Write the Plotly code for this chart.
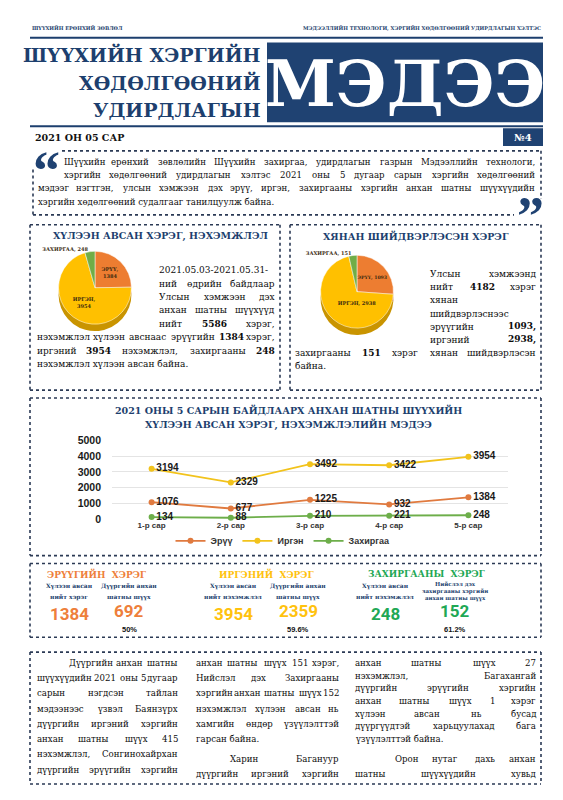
import plotly.graph_objects as go

# page pixels -> figure; the page body has an 8px margin
OFF = 8
W, H = 547, 784
def X(p): return (p - OFF) / W
def Y(p): return 1 - (p - OFF) / H

NAVY = "#1D3F6E"
ORANGE = "#ED7D31"
GOLD = "#FFC000"
GREEN = "#70AD47"
DOT = "#2B3A55"
SERIF = "DejaVu Serif, serif"
BODY = "DejaVu Serif, serif"
SANS = "Liberation Sans, Arial, sans-serif"

# ---------------- data ----------------
months = ["1-р сар", "2-р сар", "3-р сар", "4-р сар", "5-р сар"]
eruu = [1076, 677, 1225, 932, 1384]
irgen = [3194, 2329, 3492, 3422, 3954]
zahirgaa = [134, 88, 210, 221, 248]
series_names = ["Эрүү", "Иргэн", "Захиргаа"]
y_ticks = [0, 1000, 2000, 3000, 4000, 5000]

pie_labels = ["ЭРҮҮ", "ИРГЭН", "ЗАХИРГАА"]
received = [1384, 3954, 248]
resolved = [1093, 2938, 151]

group_titles = ["ЭРҮҮГИЙН  ХЭРЭГ", "ИРГЭНИЙ  ХЭРЭГ", "ЗАХИРГААНЫ  ХЭРЭГ"]
total_labels = [["Хүлээн авсан", "нийт хэрэг"], ["Хүлээн авсан", "нийт нэхэмжлэл"],
                ["Хүлээн авсан", "нийт нэхэмжлэл"]]
district_labels = [["Дүүргийн анхан", "шатны шүүх"], ["Дүүргийн анхан", "шатны шүүх"],
                   ["Нийслэл дэх", "захиргааны хэргийн", "анхан шатны шүүх"]]
totals = [1384, 3954, 248]
district = [692, 2359, 152]
shares = ["50%", "59.6%", "61.2%"]

fig = go.Figure()
shapes = []
ann = []

def A(text, x, y, size, color="#111", family=BODY, weight="normal", xa="center", ya="middle"):
    ann.append(dict(text=text, x=X(x), y=Y(y), xref="paper", yref="paper", showarrow=False,
                    xanchor=xa, yanchor=ya,
                    font=dict(size=size, color=color, family=family, weight=weight)))

def dotted(x0, y0, x1, y1):
    shapes.append(dict(type="line", xref="paper", yref="paper", x0=X(x0), y0=Y(y0), x1=X(x1), y1=Y(y1),
                       line=dict(color=DOT, width=1.6, dash="dot")))

def rect(x0, y0, x1, y1, color):
    shapes.append(dict(type="rect", xref="paper", yref="paper", x0=X(x0), y0=Y(y0), x1=X(x1), y1=Y(y1),
                       line=dict(width=0), fillcolor=color, layer="below"))

def hline(x0, x1, y, color=NAVY, width=2):
    shapes.append(dict(type="line", xref="paper", yref="paper", x0=X(x0), y0=Y(y), x1=X(x1), y1=Y(y),
                       line=dict(color=color, width=width)))

# character width estimate (em) for DejaVu Serif
WIDE = set("шщжмыюфШЩЖМЫЮФ")
def cw(c):
    if c == " ":
        return 0.318
    if c.isdigit():
        return 0.636
    if c in ".,:;":
        return 0.318
    if c == "-":
        return 0.338
    if c in WIDE:
        return 0.92
    if c.isupper():
        return 0.74
    if c in "гзсэ":
        return 0.55
    if c in "ийнпцо":
        return 0.68
    return 0.6

def tw(s, size, bold=False):
    return sum(cw(c) for c in s) * size * (1.1 if bold else 1.0)

def jline(text, x0, x1, y, size, justify=True, color="#0d0d0d"):
    words = text.split()
    parsed = [(w.lstrip("*"), w.startswith("*")) for w in words]
    def wtxt(w, b):
        return f"<b>{w}</b>" if b else w
    if not justify or len(parsed) == 1:
        A(" ".join(wtxt(w, b) for w, b in parsed), x0, y, size, color=color, xa="left")
        return
    widths = [tw(w, size, b) for w, b in parsed]
    gap = (x1 - x0 - sum(widths)) / (len(parsed) - 1)
    cur = x0
    for i, ((w, b), wd) in enumerate(zip(parsed, widths)):
        if i == 0:
            A(wtxt(w, b), x0, y, size, color=color, xa="left")
        elif i == len(parsed) - 1:
            A(wtxt(w, b), x1, y, size, color=color, xa="right")
        else:
            A(wtxt(w, b), cur + wd / 2, y, size, color=color, xa="center")
        cur += wd + gap

# ---------------- header ----------------
A("ШҮҮХИЙН ЕРӨНХИЙ ЗӨВЛӨЛ", 30, 22, 5, NAVY, SERIF, "bold", xa="left")
A("МЭДЭЭЛЛИЙН ТЕХНОЛОГИ, ХЭРГИЙН ХӨДӨЛГӨӨНИЙ УДИРДЛАГЫН ХЭЛТЭС", 543, 22, 5, NAVY, SERIF, "bold", xa="right")
hline(30, 543, 32, NAVY, 2)
for t, yy in [("ШҮҮХИЙН ХЭРГИЙН", 49), ("ХӨДӨЛГӨӨНИЙ", 78), ("УДИРДЛАГЫН", 105)]:
    A(t, 263, yy, 19, NAVY, SERIF, "bold", xa="right")
rect(267, 37, 543, 118, "#1F4272")
A("МЭДЭЭ", 405, 79, 64, "white", SERIF, "bold")
hline(30, 543, 122, NAVY, 2)
A("2021 ОН 05 САР", 33, 133, 9.5, "#111", SERIF, "bold", xa="left")
rect(503, 124, 543, 142, "#1F4272")
A("№4", 523, 133, 10, "white", SERIF, "bold")

# ---------------- quote ----------------
dotted(62, 147, 541, 147)
dotted(541, 147, 541, 196)
dotted(33, 212, 514, 212)
dotted(33, 166, 33, 212)
A("“", 46, 167, 54, "#1F4272", "Liberation Serif, serif", "bold")
A("”", 530, 213, 54, "#1F4272", "Liberation Serif, serif", "bold")
qsize = 8.6
jline("Шүүхийн ерөнхий зөвлөлийн Шүүхийн захиргаа, удирдлагын газрын Мэдээллийн технологи,", 62, 537, 158, qsize)
jline("хэргийн хөдөлгөөний удирдлагын хэлтэс 2021 оны 5 дугаар сарын хэргийн хөдөлгөөний", 62, 537, 172, qsize)
jline("мэдээг нэгтгэн, улсын хэмжээн дэх эрүү, иргэн, захиргааны хэргийн анхан шатны шүүхүүдийн", 36, 537, 185, qsize)
jline("хэргийн хөдөлгөөний судалгааг танилцуулж байна.", 36, 537, 199, qsize, justify=False)

# ---------------- pie boxes ----------------
for x0, x1 in [(30, 280), (290, 541)]:
    dotted(x0, 222, x1, 222); dotted(x0, 390, x1, 390)
    dotted(x0, 222, x0, 390); dotted(x1, 222, x1, 390)
A("ХҮЛЭЭН АВСАН ХЭРЭГ, НЭХЭМЖЛЭЛ", 160, 233, 9.5, NAVY, SERIF, "bold")
A("ХЯНАН ШИЙДВЭРЛЭСЭН ХЭРЭГ", 416, 233, 9.5, NAVY, SERIF, "bold")

psize = 9
ys = [268 + 13.7 * i for i in range(8)]
left_lines = [("2021.05.03-2021.05.31-", 157), ("ний өдрийн байдлаар", 157), ("Улсын хэмжээн дэх", 157),
              ("анхан шатны шүүхүүд", 157), ("нийт *5586 хэрэг,", 157),
              ("нэхэмжлэл хүлээн авснаас эрүүгийн *1384 хэрэг,", 35),
              ("иргэний *3954 нэхэмжлэл, захиргааны *248", 35),
              ("нэхэмжлэл хүлээн авсан байна.", 35)]
for i, (t, x0) in enumerate(left_lines):
    jline(t, x0, 277, ys[i], psize, justify=(i not in (0, 7)))
right_lines = [("Улсын хэмжээнд", 428), ("нийт *4182 хэрэг", 428), ("хянан", 428),
               ("шийдвэрлэснээс", 428), ("эрүүгийн *1093,", 428), ("иргэний *2938,", 428),
               ("захиргааны *151 хэрэг хянан шийдвэрлэсэн", 293), ("байна.", 293)]
ys2 = [272 + 13.4 * i for i in range(8)]
for i, (t, x0) in enumerate(right_lines):
    jline(t, x0, 538, ys2[i], psize, justify=(i != 7))

PIE_COLORS = [ORANGE, GOLD, GREEN]
PIE_DARK = ["#B65A1E", "#C99400", "#4F8430"]

def add_pie(values, cx, cy, d, names, template):
    r = d / 2
    fig.add_trace(go.Pie(values=values, labels=names, sort=False, direction="clockwise", rotation=0,
                         domain=dict(x=[X(cx - r), X(cx + r)], y=[Y(cy + r + 7), Y(cy - r + 7)]),
                         marker=dict(colors=PIE_DARK, line=dict(width=0)),
                         textinfo="none", hoverinfo="skip", showlegend=False))
    fig.add_trace(go.Pie(values=values, labels=names, sort=False, direction="clockwise", rotation=0,
                         domain=dict(x=[X(cx - r), X(cx + r)], y=[Y(cy + r), Y(cy - r)]),
                         marker=dict(colors=PIE_COLORS, line=dict(color="white", width=0.5)),
                         texttemplate=template, textposition=["inside", "inside", "outside"],
                         insidetextorientation="horizontal",
                         textfont=dict(size=5, color="#3a2a10", family=SERIF, weight="bold"),
                         showlegend=False))

add_pie(received, 95, 286, 74, pie_labels, ["%{label},<br>%{value}", "%{label},<br>%{value}", "%{label}, %{value}"])
add_pie(resolved, 357, 290, 74, pie_labels, "%{label}, %{value}")

# ---------------- line chart ----------------
dotted(30, 398, 541, 398); dotted(30, 558, 541, 558)
dotted(30, 398, 30, 558); dotted(541, 398, 541, 558)
A("2021 ОНЫ 5 САРЫН БАЙДЛААРХ АНХАН ШАТНЫ ШҮҮХИЙН", 288, 410, 9.5, NAVY, SERIF, "bold")
A("ХҮЛЭЭН АВСАН ХЭРЭГ, НЭХЭМЖЛЭЛИЙН МЭДЭЭ", 288, 425, 9.5, NAVY, SERIF, "bold")

line_colors = ["#E07A3F", "#F2C31C", "#6DAE4A"]
for name, vals, col in zip(series_names, [eruu, irgen, zahirgaa], line_colors):
    fig.add_trace(go.Scatter(x=months, y=vals, name=name, mode="lines+markers+text",
                             line=dict(color=col, width=1.8), marker=dict(color=col, size=6),
                             text=[str(v) for v in vals], textposition="middle right",
                             textfont=dict(size=10, color="#1a1a1a", family=SANS, weight="bold"),
                             cliponaxis=False))

fig.update_layout(
    xaxis=dict(domain=[X(112), X(508)], type="category", range=[-0.5, 4.5], showgrid=False,
               showline=False, zeroline=False, ticks="",
               tickfont=dict(size=8, color="#333", family=SANS, weight="bold"), anchor="y"),
    yaxis=dict(domain=[Y(521), Y(441)], range=[0, 5000], tickvals=y_ticks, showgrid=True,
               gridcolor="#E4E4E4", gridwidth=1, zeroline=False, showline=False,
               tickfont=dict(size=10.5, color="#1a1a1a", family=SANS, weight="bold"),
               ticklabelstandoff=10, anchor="x"),
    legend=dict(orientation="h", x=X(283), xanchor="center", y=Y(543), yanchor="middle",
                font=dict(size=9, color="#333", family=SANS, weight="bold"),
                bgcolor="rgba(0,0,0,0)", itemwidth=30, tracegroupgap=0),
)

# ---------------- stats ----------------
dotted(30, 566, 541, 566); dotted(30, 641, 541, 641)
dotted(30, 566, 30, 641); dotted(541, 566, 541, 641)
title_x = [97, 266, 427]
tot_x = [69, 233, 385]
dis_x = [129, 298, 455]
colors = ["#EE7F3B", "#FFC20E", "#1FA855"]
for i in range(3):
    A(group_titles[i], title_x[i], 577, 9, colors[i], SERIF, "bold")
    for j, t in enumerate(total_labels[i]):
        A(t, tot_x[i], 589 + 11 * j, 6, NAVY, SERIF, "bold")
    lab = district_labels[i]
    step = 11 if len(lab) == 2 else 7.2
    y0 = 589 if len(lab) == 2 else 587
    for j, t in enumerate(lab):
        A(t, dis_x[i], y0 + step * j, 6 if len(lab) == 2 else 5.5, NAVY, SERIF, "bold")
    A(str(totals[i]), tot_x[i], 617, 17, colors[i], "Roboto, sans-serif", "bold")
    A(str(district[i]), dis_x[i], 614, 17, colors[i], "Roboto, sans-serif", "bold")
    A(shares[i], dis_x[i], 633, 7.5, "#111", SANS, "bold")

# ---------------- bottom text ----------------
dotted(30, 656, 541, 656); dotted(30, 790, 541, 790)
dotted(30, 656, 30, 790); dotted(541, 656, 541, 790)
bsize = 8.6
c1 = ["Дүүргийн анхан шатны", "шүүхүүдийн 2021 оны 5 дугаар", "сарын нэгдсэн тайлан",
      "мэдээнээс үзвэл Баянзүрх", "дүүргийн иргэний хэргийн", "анхан шатны шүүх 415",
      "нэхэмжлэл, Сонгинохайрхан", "дүүргийн эрүүгийн хэргийн"]
for i, t in enumerate(c1):
    jline(t, 67 if i == 0 else 35, 180, 667 + 15.5 * i, bsize)
c2 = ["анхан шатны шүүх 151 хэрэг,", "Нийслэл дэх Захиргааны", "хэргийн анхан шатны шүүх 152",
      "нэхэмжлэл хүлээн авсан нь", "хамгийн өндөр үзүүлэлттэй", "гарсан байна."]
for i, t in enumerate(c2):
    jline(t, 194, 341, 667 + 15.5 * i, bsize, justify=(i != 5))
jline("Харин Багануур", 228, 341, 765, bsize)
jline("дүүргийн иргэний хэргийн", 194, 341, 780, bsize)
c3 = ["анхан шатны шүүх 27", "нэхэмжлэл, Багахангай", "дүүргийн эрүүгийн хэргийн",
      "анхан шатны шүүх 1 хэрэг", "хүлээн авсан нь бусад", "дүүргүүдтэй харьцуулахад бага",
      "үзүүлэлттэй байна."]
for i, t in enumerate(c3):
    jline(t, 353, 538, 667 + 12.9 * i, bsize, justify=(i != 6))
jline("Орон нутаг дахь анхан", 393, 538, 765, bsize)
jline("шатны шүүхүүдийн хувьд", 353, 538, 780, bsize)

fig.update_layout(width=W, height=H, margin=dict(l=0, r=0, t=0, b=0),
                  paper_bgcolor="white", plot_bgcolor="white",
                  shapes=shapes, annotations=ann, showlegend=True)
fig.write_html("out.html")
